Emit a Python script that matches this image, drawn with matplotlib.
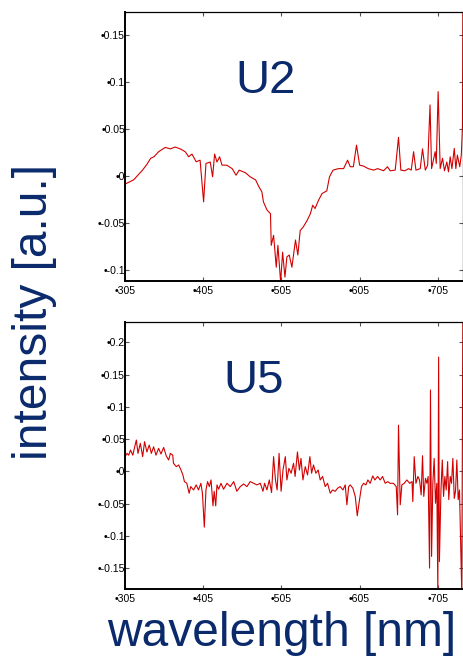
import matplotlib
matplotlib.use("Agg")
import matplotlib.pyplot as plt

plt.rcParams['font.family'] = ['Liberation Sans', 'DejaVu Sans']

NAVY = "#0b2a6c"
RED = "#d20000"

# difference spectra, wavelength in nm
u2_nm = [305, 316, 327, 333, 337.8, 342, 348, 356.5, 363, 369, 375.7, 382, 386.4, 390.6,
         396, 401, 405.5, 408.5, 414, 417, 419.6, 422.6, 426, 429, 435, 442, 447, 451,
         459, 465, 472, 476, 480, 482, 486.5, 491, 492, 495, 498.4, 500.5, 504, 506.5,
         509.5, 512, 515, 518.4, 523, 526, 529, 533, 538, 542, 545, 548, 552.5, 557,
         563, 566.5, 571, 578, 584.5, 589.6, 593, 597, 601, 605, 610, 616, 623, 628,
         635.6, 640.6, 644, 650.5, 654.7, 657.7, 663, 667.5, 671, 674, 677, 682.5,
         685.4, 689, 692, 695, 697, 701.6, 703, 705.4, 708, 711, 713.5, 716.5, 718.6,
         720.8, 723, 726, 728, 730, 733, 735, 736.5, 737]
u2_val = [-0.0085, -0.004, 0.006, 0.0125, 0.019, 0.0206, 0.026, 0.0306, 0.029, 0.031,
          0.029, 0.026, 0.0206, 0.0235, 0.0153, 0.017, -0.0274, 0.0135, 0.015, -0.0007,
          0.0235, 0.015, 0.0206, 0.0117, 0.0117, 0.008, 0.001, 0.0064, 0.0036, -0.0007,
          -0.004, -0.011, -0.0167, -0.0274, -0.036, -0.040, -0.0737, -0.063, -0.097,
          -0.0737, -0.113, -0.081, -0.1075, -0.086, -0.084, -0.097, -0.068, -0.084,
          -0.058, -0.054, -0.047, -0.040, -0.031, -0.0345, -0.0256, -0.0185, -0.0157,
          -0.0007, 0.0064, 0.008, 0.008, 0.017, 0.010, 0.010, 0.033, 0.0117, 0.0107,
          0.008, 0.0064, 0.008, 0.0057, 0.010, 0.0057, 0.0064, 0.0413, 0.0064, 0.0057,
          0.008, 0.0064, 0.026, 0.0064, 0.008, 0.029, 0.0064, 0.0117, 0.0758, 0.008,
          0.026, 0.0135, 0.090, 0.008, 0.019, 0.0057, 0.015, 0.0046, 0.0206, 0.008,
          0.0295, 0.008, 0.0224, 0.010, 0.0224, 0.0527, 0.18]

u5_nm = [305, 307.6, 309.7, 312, 315, 317.4, 319.5, 321.6, 324.6, 327.6, 330, 333, 336,
         338.7, 341.6, 344.6, 348, 351, 354.4, 357.8, 360.8, 363, 366, 367, 370.6, 373.6,
         376.6, 379, 381, 384, 387, 389, 392.7, 396, 399, 402, 404, 406.4, 408.5, 410.6,
         412.8, 415, 417.5, 419, 421, 422.6, 424.7, 427.7, 431, 435.4, 439.6, 444, 448,
         452.4, 456.6, 461, 465, 469.4, 473.7, 478, 481.4, 483.5, 486.5, 489.5, 492.4,
         495, 497.4, 499.5, 502, 504.6, 507, 510, 512, 514.6, 517.4, 520.5, 522.5, 525.5,
         528, 530, 532.5, 535.5, 538.4, 541.4, 543.6, 546, 549, 552, 554.6, 557.6, 561,
         564, 567.4, 570.4, 573.8, 576.8, 580, 583.7, 586.6, 588.7, 591, 593, 596.4,
         599.4, 602, 604.5, 607.4, 610, 613, 615.5, 618.5, 621.8, 624.5, 628, 631.3,
         634.3, 637.7, 641, 644, 648.3, 651.8, 653.5, 654.7, 656.9, 659, 662, 665.4, 669,
         672, 673, 674.8, 677, 679.5, 681.6, 683.7, 685.4, 687, 689.2, 691, 692.6, 694.4,
         695.6, 697, 698.6, 700.3, 702, 703.7, 705, 706, 707, 709, 710.7, 712.3, 714,
         715.7, 717.5, 719, 720.8, 722.5, 724.2, 726, 727.6, 729.3, 731, 732.7, 734.4,
         735.6, 737]
u5_val = [0.0227, 0.0278, 0.025, 0.033, 0.025, 0.038, 0.0485, 0.0278, 0.0433, 0.0227,
          0.0459, 0.030, 0.0407, 0.0278, 0.038, 0.025, 0.0356, 0.0268, 0.037, 0.0237,
          0.0175, 0.0278, 0.025, 0.0124, 0.0072, 0.0098, 0.002, -0.0057, -0.016, -0.0186,
          -0.034, -0.0237, -0.0289, -0.0211, -0.0289, -0.0186, -0.034, -0.0866, -0.0289,
          -0.016, -0.0237, -0.0134, -0.0536, -0.031, -0.0536, -0.0211, -0.0278, -0.0186,
          -0.0278, -0.0186, -0.0237, -0.016, -0.031, -0.0237, -0.0196, -0.0237, -0.016,
          -0.0186, -0.0211, -0.0186, -0.031, -0.0186, -0.0289, -0.0134, -0.033, 0.0227,
          -0.0134, -0.0289, 0.0278, -0.031, 0.002, 0.0227, -0.0134, 0.0046, -0.003,
          0.0124, -0.008, 0.030, 0.002, 0.020, -0.0134, 0.0072, -0.0057, 0.0227, -0.003,
          0.0098, -0.003, 0.002, -0.0134, -0.008, -0.0237, -0.0186, -0.034, -0.0289,
          -0.031, -0.0263, -0.0237, -0.0289, -0.0211, -0.052, -0.0237, -0.0211, -0.0263,
          -0.039, -0.069, -0.047, -0.0237, -0.0186, -0.0211, -0.0134, -0.0186, -0.0072,
          -0.0134, -0.008, -0.0134, -0.008, -0.0186, -0.016, -0.0186, -0.0186, -0.0237,
          -0.0675, 0.0716, -0.052, -0.0211, -0.0186, -0.0134, -0.0186, -0.016, -0.047,
          0.0227, -0.0186, -0.008, -0.0134, -0.0366, 0.0242, -0.039, -0.0108, -0.0186,
          -0.008, -0.150, 0.126, -0.132, -0.0186, 0.020, -0.0495, -0.0186, -0.19, 0.177,
          -0.140, -0.0289, 0.0175, -0.039, -0.008, -0.0289, 0.015, -0.044, -0.008,
          -0.0186, 0.020, -0.042, -0.031, 0.0175, -0.044, -0.0289, -0.122, -0.19, 0.24]

x_ticks = [305, 405, 505, 605, 705]
u2_yticks = [-0.1, -0.05, 0, 0.05, 0.1, 0.15]
u2_ylabels = ["-0.1", "-0.05", "0", "0.05", "0.1", "0.15"]
u5_yticks = [-0.15, -0.1, -0.05, 0, 0.05, 0.1, 0.15, 0.2]
u5_ylabels = ["-0.15", "-0.1", "-0.05", "0", "0.05", "0.1", "0.15", "0.2"]

fig = plt.figure(figsize=(4.64, 6.56), dpi=100)
ax1 = fig.add_axes([0.2694, 0.5716, 0.7295, 0.410])
ax2 = fig.add_axes([0.2694, 0.1021, 0.7295, 0.407])


def style_panel(ax, yticks, ylabels, ylim):
    ax.set_xlim(305, 737.8)
    ax.set_ylim(*ylim)
    ax.set_xticks(x_ticks)
    ax.set_xticklabels(["\u2022%d" % t for t in x_ticks])
    ax.set_yticks(yticks)
    ax.set_yticklabels(["\u2022" + s for s in ylabels])
    ax.tick_params(direction="in", length=3, width=0.8, color="#555555",
                   labelsize=7.6, top=True, right=True)
    ax.tick_params(axis="y", pad=0)
    ax.tick_params(axis="x", pad=3.5)
    for side in ["left", "bottom"]:
        ax.spines[side].set_linewidth(1.4)
    for side in ["top", "right"]:
        ax.spines[side].set_linewidth(0.9)


ax1.plot(u2_nm, u2_val, color=RED, lw=0.8)
style_panel(ax1, u2_yticks, u2_ylabels, (-0.1117, 0.1747))
ax2.plot(u5_nm, u5_val, color=RED, lw=0.8)
style_panel(ax2, u5_yticks, u5_ylabels, (-0.1825, 0.2314))

fig.text(0.573, 0.858, "U2", color=NAVY, fontsize=34, ha="center", va="baseline")
fig.text(0.547, 0.401, "U5", color=NAVY, fontsize=34, ha="center", va="baseline")

fig.text(34.5 / 464, 1 - 312 / 656, "intensity [a.u.]", color=NAVY, fontsize=34.5,
         rotation=90, ha="center", va="center")
fig.text(0.607, 0.0152, "wavelength [nm]", color=NAVY, fontsize=34.5,
         ha="center", va="baseline")

fig.savefig("out.png", dpi=100)
